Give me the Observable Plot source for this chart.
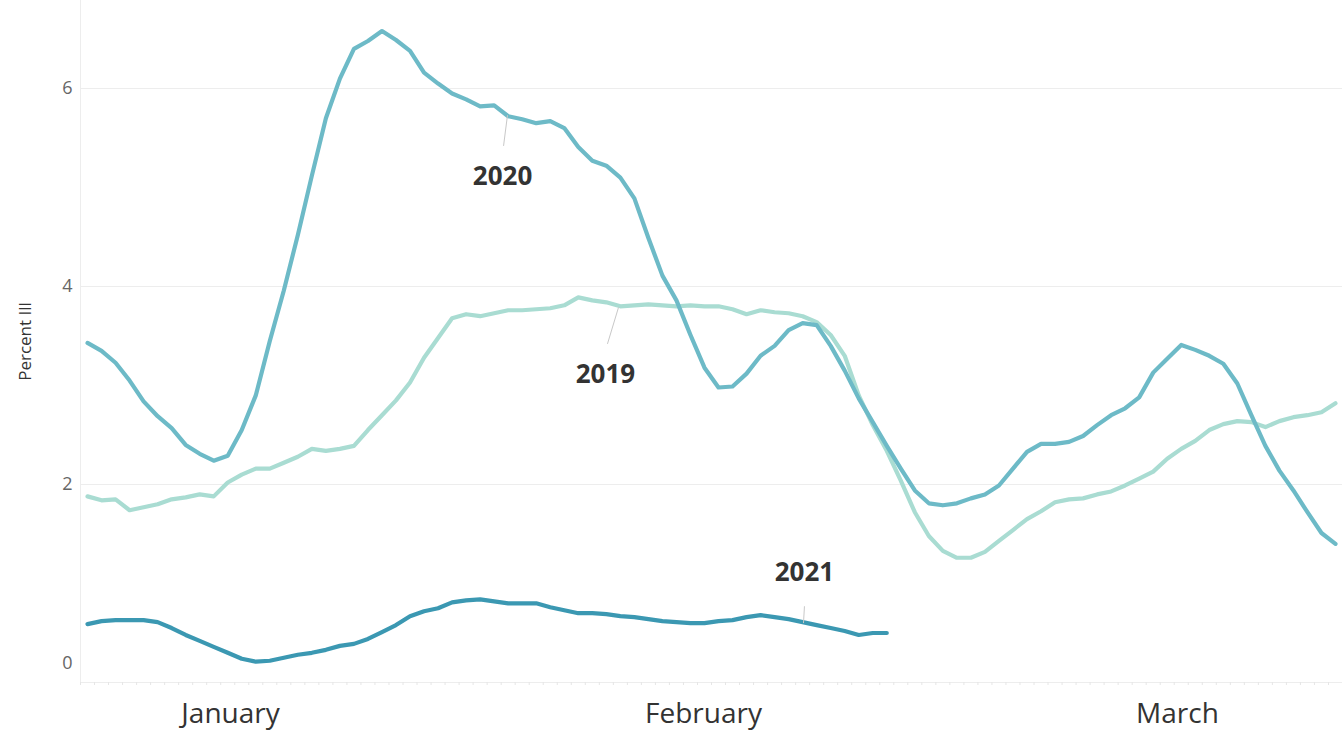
<!DOCTYPE html>
<html>
<head>
<meta charset="utf-8">
<script src="https://cdn.jsdelivr.net/npm/d3@7"></script>
<script src="https://cdn.jsdelivr.net/npm/@observablehq/plot@0.6"></script>
<style>
  html, body { margin: 0; padding: 0; background: #fff; }
  #chart svg { display: block; }
</style>
</head>
<body>
<div id="chart"></div>
<script>
// ---- data (day index from Jan 1, values in percent ill) ----
const series = ["2019", "2020", "2021"];
const seriesColors = ["#a9dcd2", "#6dbac7", "#3b98b2"];

const values2019 = [1.88,1.84,1.85,1.74,1.77,1.80,1.85,1.87,1.90,1.88,
  2.02,2.10,2.16,2.16,2.22,2.28,2.36,2.34,2.36,2.39,
  2.55,2.70,2.85,3.03,3.28,3.48,3.68,3.72,3.70,3.73,
  3.76,3.76,3.77,3.78,3.81,3.89,3.86,3.84,3.80,3.81,
  3.82,3.81,3.80,3.81,3.80,3.80,3.77,3.72,3.76,3.74,
  3.73,3.70,3.64,3.51,3.30,2.90,2.60,2.34,2.04,1.72,
  1.48,1.33,1.26,1.26,1.32,1.43,1.54,1.65,1.73,1.82,
  1.85,1.86,1.90,1.93,1.99,2.06,2.13,2.26,2.36,2.44,
  2.55,2.61,2.64,2.63,2.58,2.64,2.68,2.70,2.73,2.82];

const values2020 = [3.43,3.35,3.23,3.05,2.84,2.69,2.57,2.40,2.31,2.24,
  2.29,2.55,2.90,3.45,3.96,4.52,5.12,5.70,6.10,6.40,
  6.48,6.58,6.49,6.38,6.16,6.05,5.95,5.89,5.82,5.83,
  5.72,5.69,5.65,5.67,5.60,5.41,5.27,5.22,5.10,4.89,
  4.49,4.11,3.86,3.51,3.18,2.98,2.99,3.12,3.30,3.40,
  3.56,3.63,3.61,3.40,3.15,2.87,2.63,2.39,2.16,1.94,
  1.81,1.79,1.81,1.86,1.90,1.99,2.16,2.33,2.41,2.41,
  2.43,2.49,2.60,2.70,2.77,2.88,3.13,3.27,3.41,3.36,
  3.30,3.22,3.02,2.70,2.39,2.14,1.94,1.72,1.51,1.40];

const values2021 = [0.59,0.62,0.63,0.63,0.63,0.61,0.55,0.48,0.42,0.36,
  0.30,0.24,0.21,0.22,0.25,0.28,0.30,0.33,0.37,0.39,
  0.44,0.51,0.58,0.67,0.72,0.75,0.81,0.83,0.84,0.82,
  0.80,0.80,0.80,0.76,0.73,0.70,0.70,0.69,0.67,0.66,
  0.64,0.62,0.61,0.60,0.60,0.62,0.63,0.66,0.68,0.66,
  0.64,0.61,0.58,0.55,0.52,0.48,0.50,0.50];

const yTicks = [0, 2, 4, 6];
const monthLabels = ["January", "February", "March"];
const monthLabelDays = [10.7, 44.43, 78.23];

// annotation labels (day, value) and leader lines
const labelText = ["2020", "2019", "2021"];
const labelDay = [30.1, 37.44, 51.63];
const labelValue = [5.11, 3.11, 1.11];
const leaderFrom = [[30.17, 5.42], [37.58, 3.42], [51.63, 0.77]];
const leaderTo = [[30.45, 5.73], [38.37, 3.79], [51.56, 0.60]];

// ---- build tables ----
const allValues = [values2019, values2020, values2021];
const rows = [];
allValues.forEach((vals, s) => vals.forEach((v, i) => rows.push({series: series[s], day: i + 0.5, value: v})));
const labels = labelText.map((t, i) => ({t, x: labelDay[i], y: labelValue[i]}));
const leaders = labelText.map((t, i) => ({x1: leaderFrom[i][0], y1: leaderFrom[i][1], x2: leaderTo[i][0], y2: leaderTo[i][1]}));
const months = monthLabels.map((m, i) => ({m, x: monthLabelDays[i]}));

const font = "'Open Sans', 'Noto Sans', sans-serif";

const chart = Plot.plot({
  width: 1342,
  height: 736,
  marginLeft: 80,
  marginRight: 0,
  marginTop: 0,
  marginBottom: 54,
  x: {domain: [0, 90], axis: null},
  y: {domain: [0, 682 / 99], axis: null},
  color: {domain: series, range: seriesColors},
  style: {fontFamily: font, background: "#fff", overflow: "visible"},
  marks: [
    Plot.ruleY([2, 4, 6], {stroke: "#ededed", strokeWidth: 1}),
    Plot.ruleX([0], {stroke: "#ededed", strokeWidth: 1}),
    Plot.ruleY([0], {stroke: "#ededed", strokeWidth: 1}),
    Plot.axisX({ticks: d3.range(0, 91), tickSize: 3, tickFormat: () => "", stroke: "#e6e6e6"}),
    Plot.line(rows, {x: "day", y: "value", z: "series", stroke: "series", strokeWidth: 4.2, curve: "linear", strokeLinejoin: "round", strokeLinecap: "round"}),
    Plot.link(leaders, {x1: "x1", y1: "y1", x2: "x2", y2: "y2", stroke: "#c8c8c8", strokeWidth: 1}),
    Plot.text(labels, {x: "x", y: "y", text: "t", fontSize: 26, fontWeight: "bold", fill: "#333"}),
    Plot.text(yTicks.filter(d => d > 0), {x: 0, y: d => d, text: d => String(d), textAnchor: "end", dx: -8, fontSize: 18, fill: "#666"}),
    Plot.text([0], {x: 0, y: d => d, text: d => String(d), textAnchor: "end", dx: -8, dy: -19, fontSize: 18, fill: "#666"}),
    Plot.text(months, {x: "x", text: "m", frameAnchor: "bottom", lineAnchor: "middle", dy: 32, fontSize: 28, fill: "#333"}),
    Plot.text(["Percent Ill"], {frameAnchor: "left", textAnchor: "middle", lineAnchor: "middle", dx: -55, rotate: -90, fontSize: 17, fill: "#333"})
  ]
});
document.getElementById("chart").appendChild(chart);
</script>
</body>
</html>
